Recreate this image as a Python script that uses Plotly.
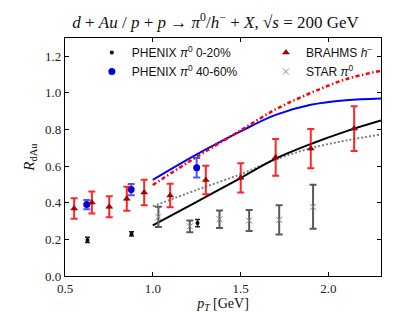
import plotly.graph_objects as go

# ---- data ----
phenix_c_x = [0.628, 0.879, 1.255]
phenix_c_y = [0.197, 0.230, 0.289]
phenix_c_err = [0.014, 0.012, 0.020]

phenix_p_x = [0.624, 0.877, 1.250]
phenix_p_y = [0.390, 0.472, 0.591]
phenix_p_err = [0.025, 0.031, 0.053]

brahms_x = [0.552, 0.653, 0.752, 0.852, 0.951, 1.099, 1.302, 1.501, 1.700, 1.900, 2.147]
brahms_y = [0.369, 0.401, 0.378, 0.422, 0.456, 0.440, 0.524, 0.536, 0.648, 0.696, 0.805]
brahms_err = [0.056, 0.060, 0.057, 0.065, 0.070, 0.064, 0.078, 0.080, 0.100, 0.107, 0.122]

star_x = [1.032, 1.211, 1.380, 1.549, 1.720, 1.913]
star_y = [0.323, 0.271, 0.310, 0.303, 0.307, 0.378]
star_err = [0.055, 0.032, 0.048, 0.057, 0.080, 0.120]

blue_x = [1.0, 1.15, 1.3, 1.5, 1.7, 1.9, 2.1, 2.3]
blue_y = [0.525, 0.610, 0.690, 0.790, 0.880, 0.935, 0.960, 0.970]

red_x = [1.0, 1.15, 1.3, 1.5, 1.7, 1.9, 2.1, 2.3]
red_y = [0.497, 0.590, 0.680, 0.795, 0.910, 1.000, 1.075, 1.121]

black_x = [1.0, 1.25, 1.5, 1.7, 1.9, 2.1, 2.3]
black_y = [0.277, 0.405, 0.535, 0.641, 0.721, 0.790, 0.849]

gray_x = [1.0, 1.25, 1.5, 1.7, 1.9, 2.1, 2.3]
gray_y = [0.381, 0.470, 0.556, 0.636, 0.698, 0.740, 0.773]

x_ticks = [0.5, 1.0, 1.5, 2.0]
y_ticks = [0.0, 0.2, 0.4, 0.6, 0.8, 1.0, 1.2]

SERIF = "Liberation Serif"
SANS = "Liberation Sans"

fig = go.Figure()

# theory curves
fig.add_trace(go.Scatter(x=blue_x, y=blue_y, mode="lines", line=dict(color="#0000ff", width=2, shape="spline"), showlegend=False))
fig.add_trace(go.Scatter(x=red_x, y=red_y, mode="lines", line=dict(color="#ff0000", width=2.5, dash="4px,2.5px,1.5px,2.5px", shape="spline"), showlegend=False))
fig.add_trace(go.Scatter(x=gray_x, y=gray_y, mode="lines", line=dict(color="#808080", width=2, dash="2px,2px", shape="spline"), showlegend=False))
fig.add_trace(go.Scatter(x=black_x, y=black_y, mode="lines", line=dict(color="#000000", width=2, shape="spline"), showlegend=False))

# data
fig.add_trace(go.Scatter(
    x=phenix_c_x, y=phenix_c_y, mode="markers", name="PHENIX <i>π</i><sup>0</sup> 0-20%",
    marker=dict(color="#000000", size=4, symbol="circle"),
    error_y=dict(type="data", array=phenix_c_err, color="#222222", thickness=1.5, width=2.5),
    legend="legend"))
fig.add_trace(go.Scatter(
    x=phenix_p_x, y=phenix_p_y, mode="markers", name="PHENIX <i>π</i><sup>0</sup> 40-60%",
    marker=dict(color="#0000dd", size=7, symbol="circle"),
    error_y=dict(type="data", array=phenix_p_err, color="rgba(40,40,255,0.8)", thickness=2, width=3.5),
    legend="legend"))
fig.add_trace(go.Scatter(
    x=brahms_x, y=brahms_y, mode="markers", name="BRAHMS <i>h</i><sup>−</sup>",
    marker=dict(color="#b00000", size=6, symbol="triangle-up", line=dict(color="#600000", width=0.5)),
    error_y=dict(type="data", array=brahms_err, color="rgba(255,0,0,0.85)", thickness=2, width=3.5),
    legend="legend2"))
fig.add_trace(go.Scatter(
    x=star_x, y=star_y, mode="markers", name="STAR <i>π</i><sup>0</sup>",
    marker=dict(color="#888888", size=6, symbol="x-thin", line=dict(color="#888888", width=1)),
    error_y=dict(type="data", array=star_err, color="#5a5a5a", thickness=2, width=3.5),
    legend="legend2"))

axis_common = dict(
    showline=True, linecolor="black", linewidth=1.3, mirror="ticks",
    ticks="inside", ticklen=4, tickwidth=1, tickcolor="black",
    showgrid=False, zeroline=False,
    tickfont=dict(family=SERIF, size=13, color="#222"),
)

fig.update_layout(
    width=415, height=312,
    margin=dict(l=57, r=42, t=30, b=38),
    paper_bgcolor="white", plot_bgcolor="white",
    title=dict(
        text="<i>d</i> + <i>Au</i> / <i>p</i> + <i>p</i> → <i>π</i><sup>0</sup>/<i>h</i><sup>−</sup> + <i>X</i>, √<i>s</i> = 200 GeV",
        x=0.5, xanchor="center", y=0.955, yanchor="middle",
        font=dict(family=SERIF, size=17, color="#111")),
    xaxis=dict(range=[0.5, 2.3], tickvals=x_ticks, ticktext=[f"{v:.1f}" for v in x_ticks],
               title=dict(text="<i>p</i><sub><i>T</i></sub> [GeV]", font=dict(family=SERIF, size=14, color="#111"), standoff=2),
               **axis_common),
    yaxis=dict(range=[0, 1.3], tickvals=y_ticks, ticktext=[f"{v:.1f}" for v in y_ticks],
               title=dict(text="<i>R</i><sub>dAu</sub>", font=dict(family=SERIF, size=15, color="#111"), standoff=6),
               **axis_common),
    legend=dict(x=0.085, y=1.0, xanchor="left", yanchor="top", bgcolor="rgba(0,0,0,0)",
                font=dict(family=SANS, size=12, color="#111"), tracegroupgap=0),
    legend2=dict(x=0.636, y=1.0, xanchor="left", yanchor="top", bgcolor="rgba(0,0,0,0)",
                 font=dict(family=SANS, size=12, color="#111"), tracegroupgap=0),
)

fig.write_html("out.html")
